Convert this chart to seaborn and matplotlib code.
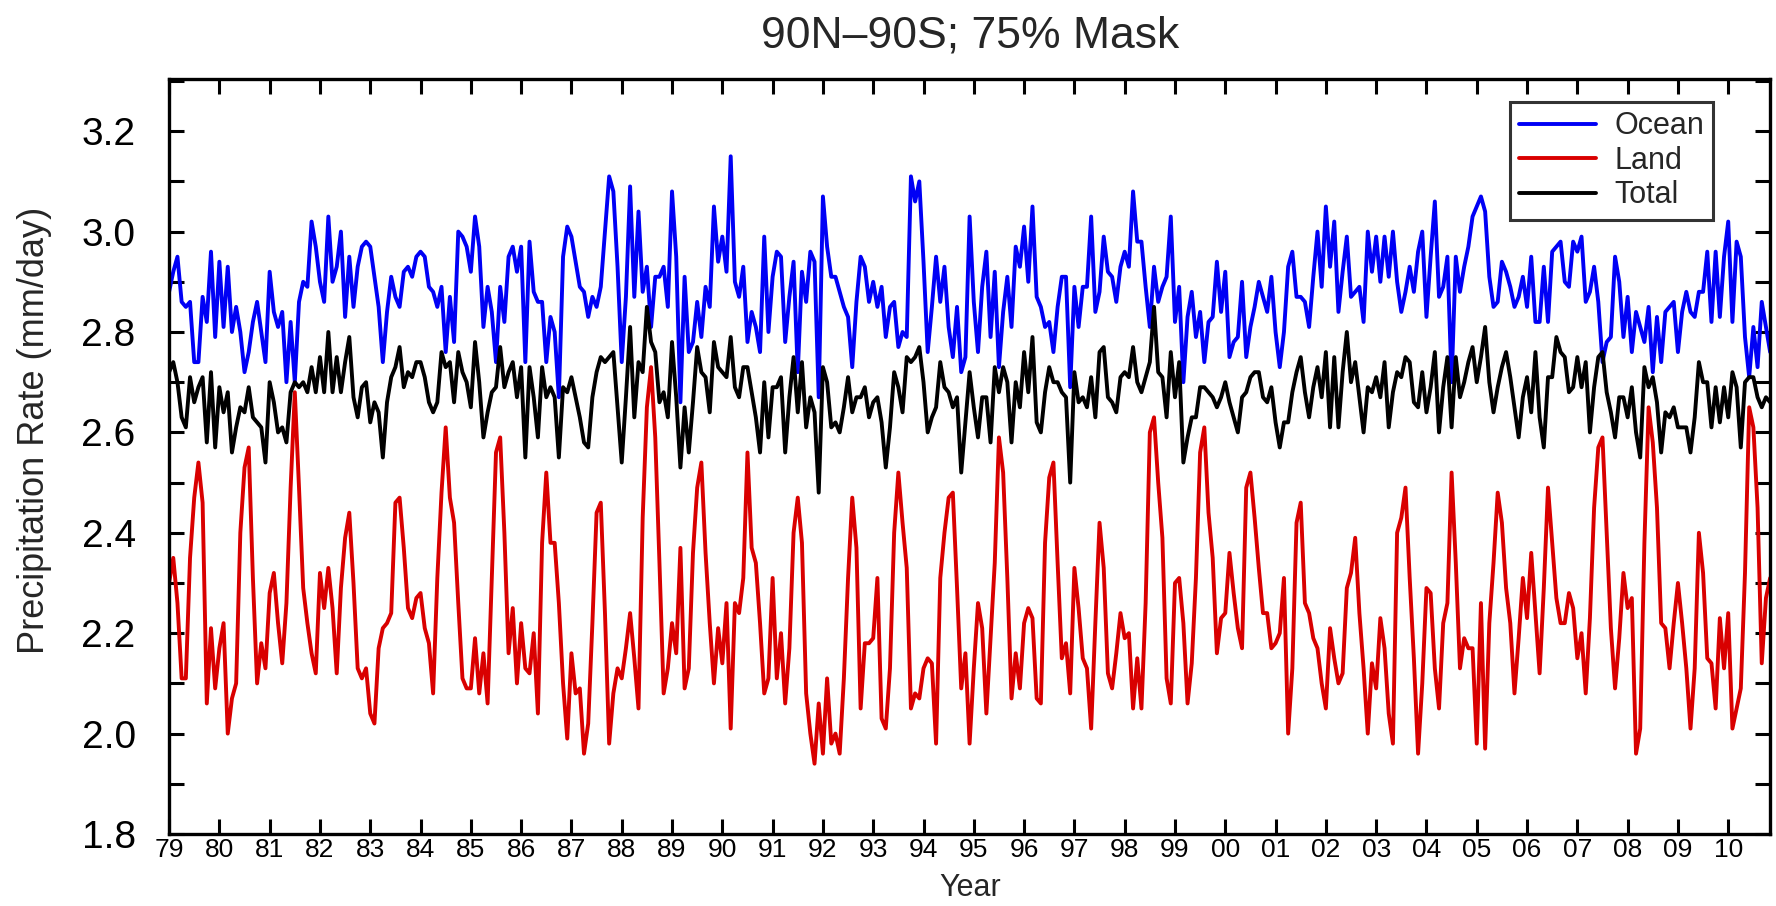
import matplotlib
matplotlib.use("Agg")
import matplotlib.pyplot as plt
import pandas as pd
import seaborn as sns
from matplotlib.ticker import MultipleLocator, FormatStrFormatter

# --- data: monthly precipitation rate (mm/day), one row per year, Jan 1979 .. Nov 2010 ---
YEARS = list(range(1979, 2011))
TICK_LABELS = ['79', '80', '81', '82', '83', '84', '85', '86', '87', '88', '89',
               '90', '91', '92', '93', '94', '95', '96', '97', '98', '99', '00',
               '01', '02', '03', '04', '05', '06', '07', '08', '09', '10']

OCEAN = [
    [2.88, 2.92, 2.95, 2.86, 2.85, 2.86, 2.74, 2.74, 2.87, 2.82, 2.96, 2.79],
    [2.94, 2.81, 2.93, 2.80, 2.85, 2.80, 2.72, 2.76, 2.82, 2.86, 2.80, 2.74],
    [2.92, 2.84, 2.81, 2.84, 2.70, 2.82, 2.70, 2.86, 2.90, 2.89, 3.02, 2.97],
    [2.90, 2.86, 3.03, 2.90, 2.93, 3.00, 2.83, 2.95, 2.85, 2.93, 2.97, 2.98],
    [2.97, 2.91, 2.85, 2.74, 2.84, 2.91, 2.87, 2.85, 2.92, 2.93, 2.91, 2.95],
    [2.96, 2.95, 2.89, 2.88, 2.85, 2.89, 2.76, 2.87, 2.78, 3.00, 2.99, 2.97],
    [2.92, 3.03, 2.97, 2.81, 2.89, 2.84, 2.74, 2.89, 2.82, 2.95, 2.97, 2.92],
    [2.97, 2.74, 2.98, 2.88, 2.86, 2.86, 2.74, 2.83, 2.80, 2.67, 2.95, 3.01],
    [2.99, 2.94, 2.89, 2.88, 2.83, 2.87, 2.85, 2.89, 3.00, 3.11, 3.08, 2.93],
    [2.74, 2.87, 3.09, 2.87, 3.04, 2.88, 2.93, 2.81, 2.91, 2.91, 2.93, 2.85],
    [3.08, 2.95, 2.66, 2.91, 2.76, 2.78, 2.86, 2.79, 2.89, 2.85, 3.05, 2.94],
    [2.99, 2.92, 3.15, 2.90, 2.87, 2.93, 2.78, 2.84, 2.81, 2.76, 2.99, 2.80],
    [2.91, 2.96, 2.95, 2.78, 2.87, 2.94, 2.72, 2.92, 2.86, 2.96, 2.94, 2.67],
    [3.07, 2.97, 2.91, 2.91, 2.88, 2.85, 2.83, 2.73, 2.86, 2.95, 2.93, 2.86],
    [2.90, 2.85, 2.89, 2.79, 2.85, 2.86, 2.77, 2.80, 2.79, 3.11, 3.06, 3.10],
    [2.94, 2.76, 2.85, 2.95, 2.86, 2.93, 2.81, 2.75, 2.85, 2.72, 2.75, 3.03],
    [2.86, 2.76, 2.89, 2.96, 2.79, 2.92, 2.73, 2.84, 2.91, 2.81, 2.97, 2.93],
    [3.01, 2.90, 3.05, 2.87, 2.85, 2.81, 2.82, 2.76, 2.85, 2.91, 2.91, 2.69],
    [2.89, 2.81, 2.89, 2.89, 3.03, 2.84, 2.88, 2.99, 2.92, 2.91, 2.86, 2.93],
    [2.96, 2.93, 3.08, 2.98, 2.98, 2.89, 2.81, 2.93, 2.86, 2.89, 2.91, 3.03],
    [2.82, 2.89, 2.70, 2.83, 2.88, 2.79, 2.84, 2.74, 2.82, 2.83, 2.94, 2.84],
    [2.92, 2.75, 2.78, 2.79, 2.90, 2.75, 2.81, 2.85, 2.90, 2.87, 2.84, 2.91],
    [2.80, 2.73, 2.80, 2.93, 2.96, 2.87, 2.87, 2.86, 2.81, 2.91, 3.00, 2.89],
    [3.05, 2.93, 3.02, 2.84, 2.92, 2.99, 2.87, 2.88, 2.89, 2.82, 3.00, 2.92],
    [2.99, 2.90, 2.99, 2.91, 3.00, 2.90, 2.84, 2.88, 2.93, 2.88, 2.96, 3.00],
    [2.83, 2.95, 3.06, 2.87, 2.89, 2.95, 2.70, 2.95, 2.88, 2.93, 2.97, 3.03],
    [3.05, 3.07, 3.04, 2.91, 2.85, 2.86, 2.94, 2.92, 2.89, 2.85, 2.87, 2.91],
    [2.85, 2.95, 2.82, 2.82, 2.93, 2.82, 2.96, 2.97, 2.98, 2.90, 2.89, 2.98],
    [2.96, 2.99, 2.86, 2.88, 2.93, 2.86, 2.74, 2.78, 2.79, 2.95, 2.90, 2.79],
    [2.87, 2.76, 2.84, 2.81, 2.78, 2.85, 2.72, 2.83, 2.74, 2.84, 2.85, 2.86],
    [2.76, 2.84, 2.88, 2.84, 2.83, 2.88, 2.88, 2.96, 2.82, 2.96, 2.83, 2.95],
    [3.02, 2.82, 2.98, 2.95, 2.79, 2.71, 2.81, 2.73, 2.86, 2.81, 2.76],
]

LAND = [
    [2.30, 2.35, 2.26, 2.11, 2.11, 2.35, 2.47, 2.54, 2.46, 2.06, 2.21, 2.09],
    [2.17, 2.22, 2.00, 2.07, 2.10, 2.40, 2.53, 2.57, 2.31, 2.10, 2.18, 2.13],
    [2.28, 2.32, 2.22, 2.14, 2.26, 2.49, 2.68, 2.49, 2.29, 2.22, 2.16, 2.12],
    [2.32, 2.25, 2.33, 2.25, 2.12, 2.29, 2.39, 2.44, 2.30, 2.13, 2.11, 2.13],
    [2.04, 2.02, 2.17, 2.21, 2.22, 2.24, 2.46, 2.47, 2.37, 2.25, 2.23, 2.27],
    [2.28, 2.21, 2.18, 2.08, 2.31, 2.48, 2.61, 2.47, 2.42, 2.26, 2.11, 2.09],
    [2.09, 2.19, 2.08, 2.16, 2.06, 2.31, 2.56, 2.59, 2.40, 2.16, 2.25, 2.10],
    [2.22, 2.13, 2.12, 2.20, 2.04, 2.38, 2.52, 2.38, 2.38, 2.26, 2.10, 1.99],
    [2.16, 2.08, 2.09, 1.96, 2.02, 2.22, 2.44, 2.46, 2.24, 1.98, 2.08, 2.13],
    [2.11, 2.17, 2.24, 2.15, 2.05, 2.43, 2.65, 2.73, 2.59, 2.34, 2.08, 2.13],
    [2.22, 2.16, 2.37, 2.09, 2.13, 2.36, 2.49, 2.54, 2.36, 2.22, 2.10, 2.21],
    [2.14, 2.26, 2.01, 2.26, 2.24, 2.31, 2.56, 2.37, 2.34, 2.22, 2.08, 2.11],
    [2.31, 2.11, 2.20, 2.06, 2.17, 2.40, 2.47, 2.38, 2.08, 2.00, 1.94, 2.06],
    [1.96, 2.11, 1.98, 2.00, 1.96, 2.11, 2.31, 2.47, 2.37, 2.05, 2.18, 2.18],
    [2.19, 2.31, 2.03, 2.01, 2.13, 2.40, 2.52, 2.42, 2.33, 2.05, 2.08, 2.07],
    [2.13, 2.15, 2.14, 1.98, 2.31, 2.40, 2.47, 2.48, 2.29, 2.09, 2.16, 1.98],
    [2.13, 2.26, 2.21, 2.04, 2.19, 2.34, 2.59, 2.52, 2.31, 2.07, 2.16, 2.09],
    [2.22, 2.25, 2.23, 2.07, 2.06, 2.38, 2.51, 2.54, 2.34, 2.15, 2.18, 2.08],
    [2.33, 2.25, 2.15, 2.13, 2.01, 2.22, 2.42, 2.33, 2.12, 2.09, 2.16, 2.24],
    [2.19, 2.20, 2.05, 2.15, 2.05, 2.26, 2.60, 2.63, 2.50, 2.39, 2.11, 2.06],
    [2.30, 2.31, 2.22, 2.06, 2.14, 2.31, 2.56, 2.61, 2.44, 2.35, 2.16, 2.23],
    [2.24, 2.36, 2.28, 2.21, 2.17, 2.49, 2.52, 2.43, 2.33, 2.24, 2.24, 2.17],
    [2.18, 2.20, 2.31, 2.00, 2.13, 2.42, 2.46, 2.26, 2.24, 2.19, 2.17, 2.10],
    [2.05, 2.21, 2.15, 2.10, 2.12, 2.29, 2.32, 2.39, 2.24, 2.13, 2.00, 2.14],
    [2.09, 2.23, 2.17, 2.04, 1.98, 2.40, 2.43, 2.49, 2.31, 2.15, 1.96, 2.10],
    [2.29, 2.28, 2.13, 2.05, 2.22, 2.26, 2.52, 2.34, 2.13, 2.19, 2.17, 2.17],
    [1.98, 2.26, 1.97, 2.22, 2.34, 2.48, 2.42, 2.29, 2.22, 2.08, 2.19, 2.31],
    [2.23, 2.36, 2.24, 2.12, 2.29, 2.49, 2.38, 2.27, 2.22, 2.22, 2.28, 2.25],
    [2.15, 2.20, 2.08, 2.23, 2.45, 2.57, 2.59, 2.40, 2.21, 2.09, 2.19, 2.32],
    [2.25, 2.27, 1.96, 2.01, 2.38, 2.65, 2.58, 2.45, 2.22, 2.21, 2.13, 2.22],
    [2.30, 2.22, 2.13, 2.01, 2.13, 2.40, 2.32, 2.15, 2.14, 2.05, 2.23, 2.13],
    [2.24, 2.01, 2.05, 2.09, 2.32, 2.65, 2.61, 2.45, 2.14, 2.27, 2.31],
]

TOTAL = [
    [2.72, 2.74, 2.70, 2.63, 2.61, 2.71, 2.66, 2.69, 2.71, 2.58, 2.72, 2.57],
    [2.69, 2.64, 2.68, 2.56, 2.61, 2.65, 2.64, 2.69, 2.63, 2.62, 2.61, 2.54],
    [2.70, 2.66, 2.60, 2.61, 2.58, 2.68, 2.70, 2.69, 2.70, 2.68, 2.73, 2.68],
    [2.75, 2.68, 2.80, 2.68, 2.75, 2.68, 2.74, 2.79, 2.67, 2.63, 2.69, 2.70],
    [2.62, 2.66, 2.64, 2.55, 2.66, 2.71, 2.73, 2.77, 2.69, 2.72, 2.71, 2.74],
    [2.74, 2.71, 2.66, 2.64, 2.66, 2.76, 2.73, 2.74, 2.66, 2.76, 2.72, 2.70],
    [2.65, 2.78, 2.70, 2.59, 2.64, 2.68, 2.69, 2.77, 2.69, 2.72, 2.74, 2.67],
    [2.73, 2.55, 2.73, 2.67, 2.59, 2.73, 2.67, 2.69, 2.67, 2.55, 2.69, 2.68],
    [2.71, 2.67, 2.63, 2.58, 2.57, 2.67, 2.72, 2.75, 2.74, 2.75, 2.76, 2.65],
    [2.54, 2.67, 2.81, 2.63, 2.74, 2.72, 2.85, 2.78, 2.76, 2.66, 2.68, 2.63],
    [2.78, 2.67, 2.53, 2.65, 2.56, 2.66, 2.77, 2.72, 2.71, 2.64, 2.78, 2.73],
    [2.72, 2.71, 2.79, 2.69, 2.67, 2.73, 2.73, 2.68, 2.63, 2.56, 2.70, 2.59],
    [2.69, 2.69, 2.71, 2.56, 2.67, 2.75, 2.64, 2.74, 2.61, 2.67, 2.64, 2.48],
    [2.73, 2.70, 2.61, 2.62, 2.60, 2.65, 2.71, 2.64, 2.67, 2.67, 2.69, 2.63],
    [2.66, 2.67, 2.62, 2.53, 2.61, 2.72, 2.69, 2.64, 2.75, 2.74, 2.75, 2.77],
    [2.70, 2.60, 2.63, 2.65, 2.74, 2.69, 2.68, 2.65, 2.67, 2.52, 2.62, 2.72],
    [2.65, 2.59, 2.67, 2.67, 2.58, 2.73, 2.68, 2.73, 2.70, 2.58, 2.70, 2.65],
    [2.76, 2.68, 2.79, 2.62, 2.60, 2.68, 2.73, 2.70, 2.70, 2.68, 2.67, 2.50],
    [2.72, 2.66, 2.67, 2.65, 2.71, 2.63, 2.76, 2.77, 2.67, 2.66, 2.64, 2.71],
    [2.72, 2.71, 2.77, 2.70, 2.68, 2.71, 2.74, 2.85, 2.72, 2.71, 2.63, 2.76],
    [2.67, 2.74, 2.54, 2.59, 2.63, 2.63, 2.69, 2.69, 2.68, 2.67, 2.65, 2.67],
    [2.70, 2.66, 2.63, 2.60, 2.67, 2.68, 2.71, 2.72, 2.72, 2.67, 2.66, 2.69],
    [2.62, 2.57, 2.62, 2.62, 2.68, 2.72, 2.75, 2.68, 2.63, 2.69, 2.73, 2.67],
    [2.76, 2.61, 2.75, 2.61, 2.72, 2.80, 2.70, 2.74, 2.67, 2.60, 2.69, 2.68],
    [2.71, 2.67, 2.74, 2.61, 2.68, 2.72, 2.71, 2.75, 2.74, 2.66, 2.65, 2.72],
    [2.64, 2.69, 2.76, 2.60, 2.69, 2.75, 2.61, 2.75, 2.67, 2.70, 2.74, 2.77],
    [2.70, 2.75, 2.81, 2.70, 2.64, 2.69, 2.73, 2.76, 2.71, 2.65, 2.59, 2.67],
    [2.71, 2.64, 2.76, 2.63, 2.57, 2.71, 2.71, 2.79, 2.76, 2.75, 2.68, 2.69],
    [2.75, 2.69, 2.74, 2.60, 2.69, 2.75, 2.76, 2.68, 2.64, 2.59, 2.67, 2.67],
    [2.63, 2.69, 2.60, 2.55, 2.73, 2.69, 2.71, 2.66, 2.56, 2.64, 2.63, 2.65],
    [2.61, 2.61, 2.61, 2.56, 2.63, 2.74, 2.70, 2.70, 2.61, 2.69, 2.62, 2.69],
    [2.63, 2.72, 2.69, 2.57, 2.70, 2.71, 2.71, 2.67, 2.65, 2.67, 2.66],
]

SERIES = ['Ocean', 'Land', 'Total']
COLORS = {'Ocean': '#0000f5', 'Land': '#d90000', 'Total': '#000000'}


def build_frame():
    rows = []
    for name, table in zip(SERIES, [OCEAN, LAND, TOTAL]):
        for yr, vals in zip(YEARS, table):
            for k, v in enumerate(vals):
                rows.append({'Time': yr + k / 12.0, 'Rate': v, 'Series': name})
    return pd.DataFrame(rows)


def main():
    df = build_frame()

    sns.set_style('ticks')
    plt.rcParams['font.family'] = ['Liberation Sans', 'DejaVu Sans']

    fig = plt.figure(figsize=(17.76, 9.06), dpi=100)
    ax = fig.add_axes([0.0952, 0.0795, 0.9015, 0.8333])

    sns.lineplot(data=df, x='Time', y='Rate', hue='Series', hue_order=SERIES,
                 palette=COLORS, linewidth=2.8, estimator=None, ax=ax)

    # 軸の設定
    ax.set_xlim(df['Time'].min(), df['Time'].max())
    ax.set_ylim(1.8, 3.304)
    ax.set_xticks(YEARS)
    ax.set_xticklabels(TICK_LABELS)
    ax.yaxis.set_major_locator(MultipleLocator(0.2))
    ax.yaxis.set_minor_locator(MultipleLocator(0.1))
    ax.yaxis.set_major_formatter(FormatStrFormatter('%.1f'))
    ax.tick_params(axis='y', which='major', labelsize=28, pad=24)
    ax.tick_params(axis='x', which='major', labelsize=19, pad=3)
    ax.tick_params(which='both', direction='in', top=True, right=True,
                   length=11, width=2.2, color='black', labelcolor='black')
    for sp in ax.spines.values():
        sp.set_linewidth(2.4)
        sp.set_color('black')

    ax.set_xlabel('')
    ax.set_ylabel('Precipitation Rate (mm/day)', fontsize=26)
    ax.yaxis.set_label_coords(-0.073, 0.535)

    fig.text(0.5462, 0.960, '90N\u201390S; 75% Mask', fontsize=32,
             ha='center', va='center')
    fig.text(0.5465, 0.003, 'Year', fontsize=22, ha='center', va='bottom')

    leg = ax.legend(loc='upper right', bbox_to_anchor=(0.9644, 0.9695),
                    borderaxespad=0, fontsize=22, frameon=True, fancybox=False,
                    handlelength=2.5, handletextpad=0.6, labelspacing=0.15,
                    borderpad=0.3, title=None)
    leg.get_frame().set_edgecolor('black')
    leg.get_frame().set_linewidth(2.2)
    for line in leg.get_lines():
        line.set_linewidth(2.8)

    fig.savefig('out.png', dpi=100)


if __name__ == '__main__':
    main()
